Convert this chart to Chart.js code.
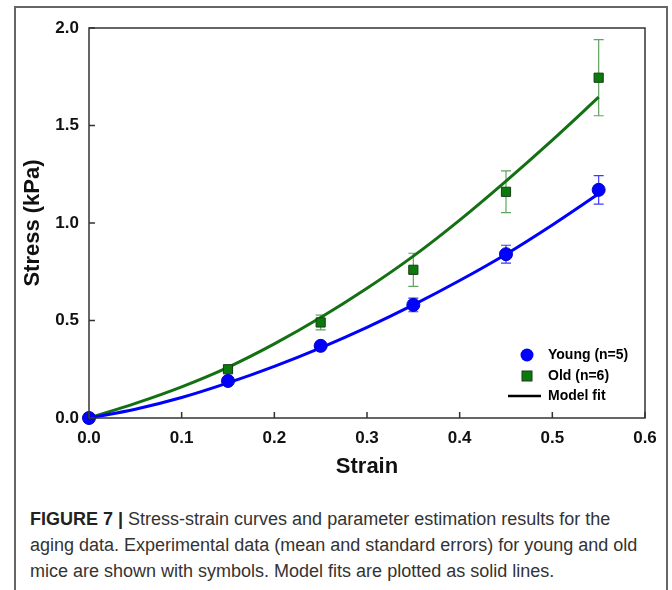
<!DOCTYPE html>
<html>
<head>
<meta charset="utf-8">
<script src="https://cdn.jsdelivr.net/npm/chart.js@4"></script>
<style>
  body { margin: 0; background: #fff; width: 672px; height: 590px; overflow: hidden; position: relative; }
  #frame { position: absolute; left: 14px; top: 6px; width: 654px; height: 600px; border: 2px solid #666; box-sizing: border-box; }
  #wrap { position: absolute; left: 0; top: 0; width: 672px; height: 500px; }
  #caption { position: absolute; left: 30px; top: 506px; width: 634px; white-space: nowrap; font-family: "Liberation Sans", Arial, sans-serif; font-size: 18px; line-height: 26px; color: #333; }
  #caption b { color: #222; }
</style>
</head>
<body>
<div id="frame"></div>
<div id="wrap"><canvas id="chart"></canvas></div>
<div id="caption"><b>FIGURE 7 |</b> Stress-strain curves and parameter estimation results for the<br>aging data. Experimental data (mean and standard errors) for young and old<br>mice are shown with symbols. Model fits are plotted as solid lines.</div>
<script>
const strain = [0, 0.15, 0.25, 0.35, 0.45, 0.55];
const youngMean = [0, 0.19, 0.37, 0.58, 0.84, 1.17];
const youngErr = [0, 0.01, 0.015, 0.035, 0.046, 0.073];
const oldMean = [0, 0.25, 0.49, 0.76, 1.16, 1.745];
const oldErr = [0, 0.01, 0.038, 0.085, 0.107, 0.195];

const fitStrain = [0, 0.05, 0.1, 0.15, 0.2, 0.25, 0.3, 0.35, 0.4, 0.45, 0.5, 0.55];
const youngFit = [0, 0.045, 0.105, 0.18, 0.265, 0.36, 0.465, 0.58, 0.705, 0.84, 0.99, 1.15];
const oldFit = [0, 0.075, 0.16, 0.26, 0.38, 0.515, 0.665, 0.83, 1.015, 1.215, 1.425, 1.645];

const xTicks = [0, 0.1, 0.2, 0.3, 0.4, 0.5, 0.6];
const yTicks = [0, 0.5, 1.0, 1.5, 2.0];

const pts = (xs, ys) => xs.map((x, i) => ({ x: x, y: ys[i] }));

const BLUE = '#0000ff';
const GREEN = '#0a7a0a';
const FIT_GREEN = '#137013';

const errorBars = {
  id: 'errorBars',
  beforeDatasetsDraw(chart) {
    const ctx = chart.ctx;
    const xs = chart.scales.x, ys = chart.scales.y;
    const sets = [[youngMean, youngErr, '#3b3bff'], [oldMean, oldErr, '#5fa55f']];
    ctx.save();
    ctx.lineWidth = 1.2;
    sets.forEach(([m, e, c]) => {
      ctx.strokeStyle = c;
      strain.forEach((s, i) => {
        if (!e[i]) return;
        const px = xs.getPixelForValue(s);
        const top = ys.getPixelForValue(m[i] + e[i]);
        const bot = ys.getPixelForValue(m[i] - e[i]);
        ctx.beginPath();
        ctx.moveTo(px, top); ctx.lineTo(px, bot);
        ctx.moveTo(px - 5, top); ctx.lineTo(px + 5, top);
        ctx.moveTo(px - 5, bot); ctx.lineTo(px + 5, bot);
        ctx.stroke();
      });
    });
    ctx.restore();
  }
};

const frameTicks = {
  id: 'frameTicks',
  afterDraw(chart) {
    const ctx = chart.ctx;
    const a = chart.chartArea;
    const xs = chart.scales.x, ys = chart.scales.y;
    ctx.save();
    ctx.strokeStyle = '#333';
    ctx.lineWidth = 1.5;
    ctx.strokeRect(a.left, a.top, a.right - a.left, a.bottom - a.top);
    ctx.beginPath();
    xTicks.forEach(v => {
      const px = xs.getPixelForValue(v);
      ctx.moveTo(px, a.bottom); ctx.lineTo(px, a.bottom - 6);
    });
    yTicks.forEach(v => {
      const py = ys.getPixelForValue(v);
      ctx.moveTo(a.left, py); ctx.lineTo(a.left + 6, py);
    });
    ctx.stroke();

    // legend inside the plot
    ctx.font = 'bold 14px "Liberation Sans", Arial, sans-serif';
    ctx.textBaseline = 'middle';
    const lx = 527, tx = 548;
    ctx.beginPath();
    ctx.arc(lx, 355, 6.5, 0, Math.PI * 2);
    ctx.fillStyle = BLUE; ctx.fill();
    ctx.fillStyle = GREEN;
    ctx.fillRect(lx - 5, 371, 10, 10);
    ctx.strokeStyle = '#1c3a1c'; ctx.lineWidth = 1;
    ctx.strokeRect(lx - 5, 371, 10, 10);
    ctx.strokeStyle = '#000'; ctx.lineWidth = 2.5;
    ctx.beginPath(); ctx.moveTo(508, 396); ctx.lineTo(541, 396); ctx.stroke();
    ctx.fillStyle = '#000';
    ctx.fillText('Young (n=5)', tx, 355);
    ctx.fillText('Old (n=6)', tx, 376);
    ctx.fillText('Model fit', tx, 396);
    ctx.restore();
  }
};

const tickFont = { family: '"Liberation Sans", Arial, sans-serif', size: 17, weight: 'bold' };
const titleFont = { family: '"Liberation Sans", Arial, sans-serif', size: 22, weight: 'bold' };

new Chart(document.getElementById('chart'), {
  type: 'scatter',
  data: {
    datasets: [
      {
        label: 'Young (n=5)',
        data: pts(strain, youngMean),
        pointStyle: 'circle',
        pointRadius: 6.5,
        backgroundColor: BLUE,
        borderColor: '#0000c8',
        borderWidth: 1,
        clip: false
      },
      {
        label: 'Old (n=6)',
        data: pts(strain, oldMean),
        pointStyle: 'rect',
        pointRadius: 6.5,
        backgroundColor: GREEN,
        borderColor: '#1c3a1c',
        borderWidth: 1,
        clip: false
      },
      {
        label: 'Young fit',
        data: pts(fitStrain, youngFit),
        showLine: true,
        pointRadius: 0,
        borderColor: BLUE,
        borderWidth: 3,
        cubicInterpolationMode: 'monotone',
        clip: false
      },
      {
        label: 'Old fit',
        data: pts(fitStrain, oldFit),
        showLine: true,
        pointRadius: 0,
        borderColor: FIT_GREEN,
        borderWidth: 3,
        cubicInterpolationMode: 'monotone',
        clip: false
      }
    ]
  },
  options: {
    responsive: true,
    maintainAspectRatio: false,
    animation: false,
    layout: { padding: { left: 13, top: 28, right: 27, bottom: 0 } },
    plugins: { legend: { display: false }, tooltip: { enabled: false } },
    scales: {
      x: {
        type: 'linear',
        min: 0, max: 0.6,
        afterBuildTicks: s => { s.ticks = xTicks.map(v => ({ value: v })); },
        afterFit: s => { s.height = 82; },
        grid: { display: false, drawTicks: false },
        border: { display: false },
        ticks: { font: tickFont, color: '#111', padding: 10, callback: v => v.toFixed(1) },
        title: { display: true, text: 'Strain', font: titleFont, color: '#111', padding: { top: 4, bottom: 20 } }
      },
      y: {
        type: 'linear',
        min: 0, max: 2,
        afterBuildTicks: s => { s.ticks = yTicks.map(v => ({ value: v })); },
        afterFit: s => { s.width = 76; },
        grid: { display: false, drawTicks: false },
        border: { display: false },
        ticks: { font: tickFont, color: '#111', padding: 10, callback: v => v.toFixed(1) },
        title: { display: true, text: 'Stress (kPa)', font: titleFont, color: '#111', padding: { top: 7, bottom: 4 } }
      }
    }
  },
  plugins: [errorBars, frameTicks]
});
</script>
</body>
</html>
